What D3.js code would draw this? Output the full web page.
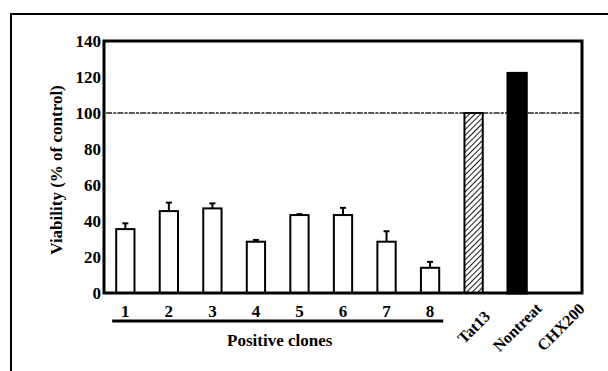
<!DOCTYPE html>
<html>
<head>
<meta charset="utf-8">
<script src="https://cdn.jsdelivr.net/npm/d3@7"></script>
<style>
  html, body { margin: 0; padding: 0; background: #fff; }
  svg { display: block; }
  text { font-family: "Liberation Serif", "DejaVu Serif", serif; font-weight: bold; fill: #000; }
</style>
</head>
<body>
<svg id="chart" width="608" height="371"></svg>
<script>
// Cell viability for each sample, in % of control
const categories = ["1", "2", "3", "4", "5", "6", "7", "8", "Tat13", "Nontreat", "CHX200"];
const viability  = [35.5, 45.5, 47, 28.5, 43.3, 43.3, 28.5, 14, 100, 122, 0];
const errorUp    = [3.2, 4.7, 2.8, 1.0, 0.5, 4.0, 5.8, 3.3, 0, 0, 0];
const cloneGroup = ["1", "2", "3", "4", "5", "6", "7", "8"];
const groupLabel = "Positive clones";
const yTicks     = [0, 20, 40, 60, 80, 100, 120, 140];
const controlLevel = 100;
const yTitle = "Viability (% of control)";

const svg = d3.select("#chart");
const plot = { left: 104, right: 582, top: 41, bottom: 293 };

const x = d3.scaleBand()
  .domain(categories)
  .range([plot.left, plot.right])
  .paddingInner(0.58)
  .paddingOuter(0.28);

const y = d3.scaleLinear().domain([0, 140]).range([plot.bottom, plot.top]);

// hatch for the Tat13 bar
const defs = svg.append("defs");
defs.append("pattern")
  .attr("id", "hatch")
  .attr("patternUnits", "userSpaceOnUse")
  .attr("width", 4).attr("height", 4)
  .attr("patternTransform", "rotate(45)")
  .append("line")
  .attr("x1", 0).attr("y1", 0).attr("x2", 0).attr("y2", 4)
  .attr("stroke", "#000").attr("stroke-width", 1.8);

// page frame (top and left edges)
svg.append("line").attr("x1", 10).attr("x2", 608).attr("y1", 14).attr("y2", 14)
  .attr("stroke", "#000").attr("stroke-width", 2);
svg.append("line").attr("x1", 11).attr("x2", 11).attr("y1", 13).attr("y2", 371)
  .attr("stroke", "#000").attr("stroke-width", 2);

// reference line at 100 %
svg.append("line")
  .attr("x1", plot.left + 2).attr("x2", plot.right - 2)
  .attr("y1", y(controlLevel)).attr("y2", y(controlLevel))
  .attr("stroke", "#222").attr("stroke-width", 1.4)
  .attr("stroke-dasharray", "6,1.2,3,1.2");

// bars
const rows = categories.map((c, i) => ({ c, v: viability[i], e: errorUp[i] }));
const fillFor = c => c === "Tat13" ? "url(#hatch)" : c === "Nontreat" ? "#000" : "#fff";

svg.append("g").selectAll("rect")
  .data(rows.filter(d => d.v > 0))
  .join("rect")
  .attr("x", d => x(d.c))
  .attr("y", d => y(d.v))
  .attr("width", x.bandwidth())
  .attr("height", d => y(0) - y(d.v))
  .attr("fill", d => fillFor(d.c))
  .attr("stroke", "#000")
  .attr("stroke-width", d => d.c === "Nontreat" ? 3 : 2);

// upper error bars
const eb = svg.append("g").attr("stroke", "#000").attr("stroke-width", 2);
rows.filter(d => d.e > 0).forEach(d => {
  const cx = x(d.c) + x.bandwidth() / 2;
  eb.append("line").attr("x1", cx).attr("x2", cx)
    .attr("y1", y(d.v)).attr("y2", y(d.v + d.e));
  eb.append("line").attr("x1", cx - 3).attr("x2", cx + 3)
    .attr("y1", y(d.v + d.e)).attr("y2", y(d.v + d.e));
});

// plot box
svg.append("rect")
  .attr("x", plot.left).attr("y", plot.top)
  .attr("width", plot.right - plot.left).attr("height", plot.bottom - plot.top)
  .attr("fill", "none").attr("stroke", "#000").attr("stroke-width", 3);

// y axis labels
const yAxis = svg.append("g")
  .attr("transform", `translate(${plot.left},0)`)
  .call(d3.axisLeft(y).tickValues(yTicks).tickSize(0).tickPadding(3));
yAxis.select(".domain").remove();
yAxis.selectAll("text")
  .style("font-family", "'Liberation Serif', serif")
  .style("font-weight", "bold")
  .style("font-size", "17px");

svg.append("text")
  .attr("transform", `translate(62,${(plot.top + plot.bottom) / 2 + 3}) rotate(-90)`)
  .attr("text-anchor", "middle")
  .attr("font-size", 17)
  .text(yTitle);

// clone numbers
svg.append("g").selectAll("text")
  .data(cloneGroup)
  .join("text")
  .attr("x", d => x(d) + x.bandwidth() / 2)
  .attr("y", 317)
  .attr("text-anchor", "middle")
  .attr("font-size", 17)
  .text(d => d);

// control labels, slanted
svg.append("g").selectAll("text")
  .data(categories.filter(c => !cloneGroup.includes(c)))
  .join("text")
  .attr("transform", d => `translate(${x(d) + x.bandwidth() / 2 + 4},${331}) rotate(-45)`)
  .attr("text-anchor", "middle")
  .attr("font-size", 16)
  .text(d => d);

// bracket under the clones
const gx0 = x(cloneGroup[0]) - 4;
const gx1 = x(cloneGroup[cloneGroup.length - 1]) + x.bandwidth() + 4;
svg.append("line")
  .attr("x1", gx0).attr("x2", gx1).attr("y1", 321).attr("y2", 321)
  .attr("stroke", "#000").attr("stroke-width", 3);

svg.append("text")
  .attr("x", (gx0 + gx1) / 2 + 2)
  .attr("y", 346)
  .attr("text-anchor", "middle")
  .attr("font-size", 17)
  .text(groupLabel);
</script>
</body>
</html>
